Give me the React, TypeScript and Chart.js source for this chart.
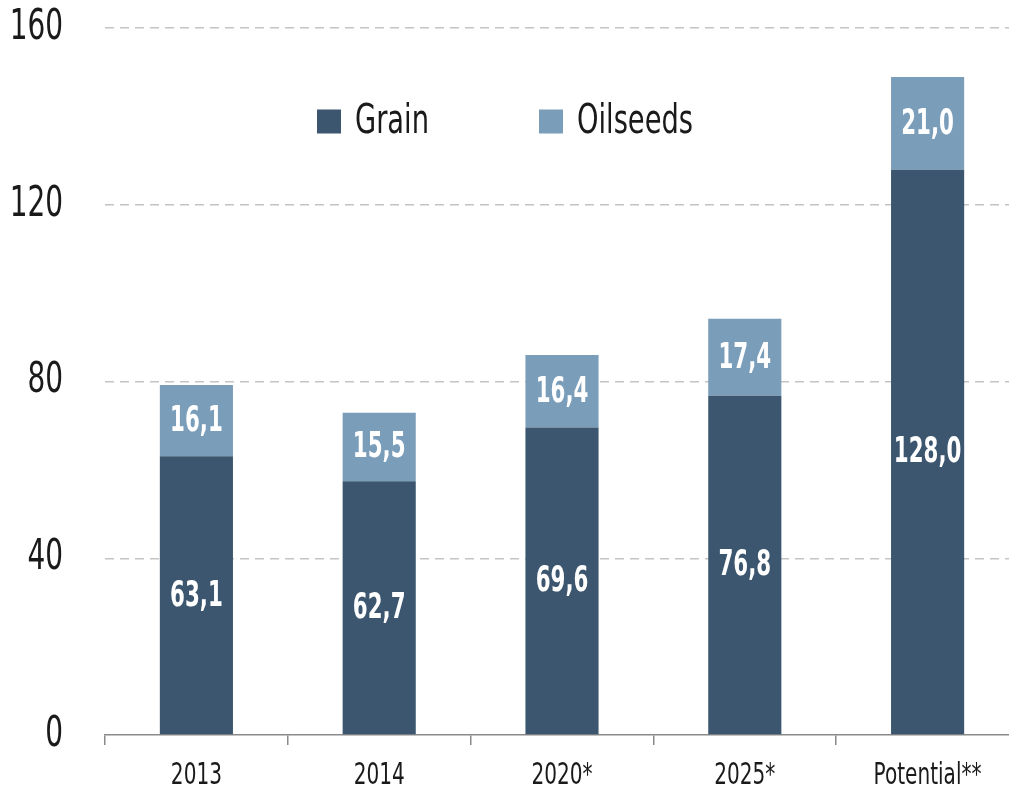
import React, { useEffect, useRef } from "react";
import { Chart, registerables } from "chart.js";

Chart.register(...registerables);

const categories = ["2013", "2014", "2020*", "2025*", "Potential**"];
const grainValues = [63.1, 57.4, 69.6, 76.8, 127.9];
const oilseedValues = [16.1, 15.5, 16.4, 17.4, 21.0];
const grainLabels = ["63,1", "62,7", "69,6", "76,8", "128,0"];
const oilseedLabels = ["16,1", "15,5", "16,4", "17,4", "21,0"];
const yTicks = [0, 40, 80, 120, 160];
const seriesNames = ["Grain", "Oilseeds"];

const GRAIN_COLOR = "#3b566e";
const OIL_COLOR = "#7a9dba";
const FONT = '"DejaVu Sans Condensed", "DejaVu Sans", sans-serif';

// draws horizontally condensed real text
function narrowText(
  ctx: CanvasRenderingContext2D,
  text: string,
  x: number,
  y: number,
  align: CanvasTextAlign,
  sx: number
) {
  ctx.save();
  ctx.translate(x, y);
  ctx.scale(sx, 1);
  ctx.textAlign = align;
  ctx.fillText(text, 0, 0);
  ctx.restore();
}

const axisTextPlugin = {
  id: "axisText",
  afterDraw(chart: any) {
    const ctx = chart.ctx;
    const ys = chart.scales.y;
    const xs = chart.scales.x;
    ctx.save();
    ctx.fillStyle = "#1a1a1a";
    ctx.textBaseline = "middle";
    ctx.font = `42px ${FONT}`;
    yTicks.forEach((v) => {
      narrowText(ctx, String(v), ys.right - 42, ys.getPixelForValue(v), "right", 0.74);
    });
    ctx.font = `31px ${FONT}`;
    categories.forEach((c, i) => {
      narrowText(ctx, c, xs.getPixelForTick(i), xs.top + 41, "center", 0.72);
    });
    ctx.restore();
  },
};

const valueLabelPlugin = {
  id: "valueLabels",
  afterDatasetsDraw(chart: any) {
    const ctx = chart.ctx;
    const labelSets = [grainLabels, oilseedLabels];
    ctx.save();
    ctx.fillStyle = "#ffffff";
    ctx.font = `bold 36px ${FONT}`;
    ctx.textBaseline = "middle";
    chart.data.datasets.forEach((_ds: any, di: number) => {
      const meta = chart.getDatasetMeta(di);
      meta.data.forEach((el: any, i: number) => {
        const p = el.getProps(["x", "y", "base"], true);
        narrowText(ctx, labelSets[di][i], p.x, (p.y + p.base) / 2 + 1, "center", 0.66);
      });
    });
    ctx.restore();
  },
};

const legendPlugin = {
  id: "insideLegend",
  afterDraw(chart: any) {
    const ctx = chart.ctx;
    const opts = chart.options.plugins.insideLegend;
    ctx.save();
    ctx.font = `41px ${FONT}`;
    ctx.textBaseline = "middle";
    chart.data.datasets.forEach((ds: any, i: number) => {
      const x = opts.xs[i];
      const y = opts.y;
      ctx.fillStyle = ds.backgroundColor;
      ctx.fillRect(x, y - opts.box / 2, opts.box, opts.box);
      ctx.fillStyle = "#1a1a1a";
      narrowText(ctx, ds.label, x + opts.box + 14, y + 1, "left", 0.74);
    });
    ctx.restore();
  },
};

export default function App() {
  const ref = useRef<HTMLCanvasElement | null>(null);

  useEffect(() => {
    if (!ref.current) return;
    const chart = new Chart(ref.current, {
      type: "bar",
      data: {
        labels: categories,
        datasets: [
          {
            label: seriesNames[0],
            data: grainValues,
            backgroundColor: GRAIN_COLOR,
            borderWidth: 0,
            barPercentage: 0.4,
            categoryPercentage: 1,
          },
          {
            label: seriesNames[1],
            data: oilseedValues,
            backgroundColor: OIL_COLOR,
            borderWidth: 0,
            barPercentage: 0.4,
            categoryPercentage: 1,
          },
        ],
      },
      options: {
        animation: false,
        responsive: false,
        devicePixelRatio: 1,
        layout: { padding: { top: 28, left: 0, right: 0, bottom: 0 } },
        plugins: {
          legend: { display: false },
          tooltip: { enabled: false },
          insideLegend: { xs: [317, 539], y: 121.5, box: 24 },
        } as any,
        scales: {
          x: {
            stacked: true,
            offset: true,
            afterFit: (s: any) => {
              s.height = 58;
            },
            grid: {
              offset: true,
              drawOnChartArea: false,
              drawTicks: true,
              tickLength: 10,
              color: "#8a8a8a",
              lineWidth: 1.5,
            },
            border: { display: true, color: "#8a8a8a", width: 1.5 },
            ticks: { display: false, autoSkip: false },
          },
          y: {
            stacked: true,
            min: 0,
            max: 160,
            afterFit: (s: any) => {
              s.width = 105;
            },
            afterBuildTicks: (s: any) => {
              s.ticks = yTicks.map((v) => ({ value: v }));
            },
            border: { display: false, dash: [9, 6] },
            grid: {
              drawTicks: false,
              color: (c: any) => (c.tick && c.tick.value === 0 ? "rgba(0,0,0,0)" : "#c4c4c4"),
              lineWidth: 1.5,
            },
            ticks: { display: false },
          },
        },
      },
      plugins: [valueLabelPlugin, legendPlugin, axisTextPlugin],
    });
    return () => chart.destroy();
  }, []);

  return (
    <div
      style={{
        position: "absolute",
        left: 0,
        top: 0,
        width: 1009,
        height: 793,
        overflow: "hidden",
        background: "#ffffff",
      }}
    >
      <canvas ref={ref} width={1019} height={793} style={{ display: "block" }} />
    </div>
  );
}
